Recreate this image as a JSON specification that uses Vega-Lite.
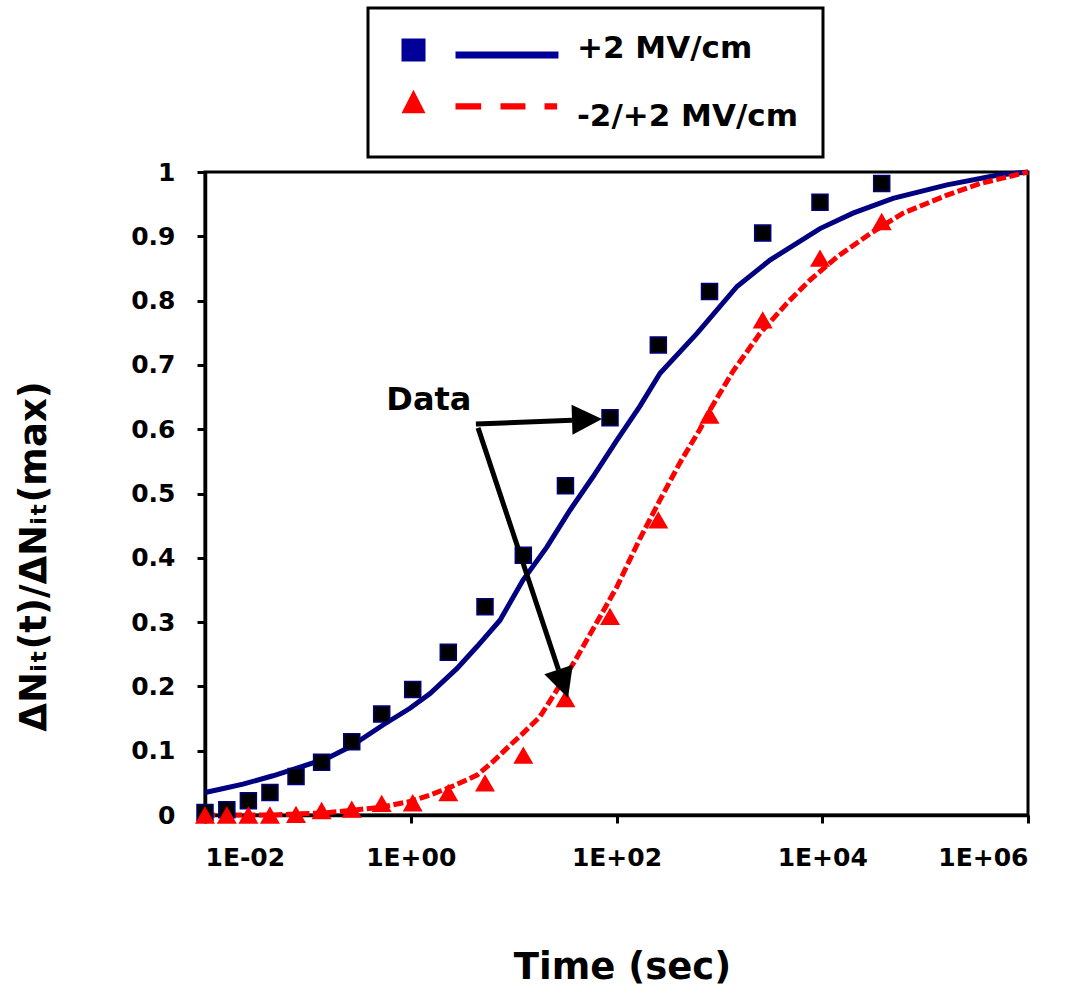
{
  "$schema": "https://vega.github.io/schema/vega-lite/v6.json",
  "width": 823,
  "height": 643,
  "autosize": {"type": "none"},
  "padding": {"left": 205, "top": 172, "right": 58, "bottom": 179},
  "background": "white",
  "config": {
    "view": {"stroke": "black", "strokeWidth": 3},
    "font": "DejaVu Sans",
    "axis": {
      "grid": false,
      "domainColor": "black",
      "domainWidth": 3.5,
      "tickColor": "black",
      "tickWidth": 3,
      "tickSize": 8,
      "labelColor": "black",
      "labelFont": "DejaVu Sans",
      "labelFontWeight": "bold",
      "labelFontSize": 25,
      "titleColor": "black",
      "titleFont": "DejaVu Sans",
      "titleFontWeight": "bold",
      "titleFontSize": 37
    },
    "legend": {
      "strokeColor": "black",
      "strokeWidth": 3,
      "fillColor": "white",
      "padding": 25
    }
  },
  "datasets": {
    "points": [
      {"series": "+2 MV/cm", "time": 0.01, "value": 0.004},
      {"series": "+2 MV/cm", "time": 0.0163, "value": 0.008},
      {"series": "+2 MV/cm", "time": 0.0264, "value": 0.022},
      {"series": "+2 MV/cm", "time": 0.0428, "value": 0.035},
      {"series": "+2 MV/cm", "time": 0.0767, "value": 0.06},
      {"series": "+2 MV/cm", "time": 0.136, "value": 0.082},
      {"series": "+2 MV/cm", "time": 0.267, "value": 0.114},
      {"series": "+2 MV/cm", "time": 0.522, "value": 0.157},
      {"series": "+2 MV/cm", "time": 1.045, "value": 0.195},
      {"series": "+2 MV/cm", "time": 2.317, "value": 0.253},
      {"series": "+2 MV/cm", "time": 5.27, "value": 0.324},
      {"series": "+2 MV/cm", "time": 12.42, "value": 0.404},
      {"series": "+2 MV/cm", "time": 31.9, "value": 0.512},
      {"series": "+2 MV/cm", "time": 86.5, "value": 0.618},
      {"series": "+2 MV/cm", "time": 255, "value": 0.731},
      {"series": "+2 MV/cm", "time": 802, "value": 0.814},
      {"series": "+2 MV/cm", "time": 2637, "value": 0.905},
      {"series": "+2 MV/cm", "time": 9508, "value": 0.953},
      {"series": "+2 MV/cm", "time": 37840, "value": 0.982},
      {"series": "-2/+2 MV/cm", "time": 0.01, "value": 0.0},
      {"series": "-2/+2 MV/cm", "time": 0.0163, "value": 0.0},
      {"series": "-2/+2 MV/cm", "time": 0.0264, "value": 0.0},
      {"series": "-2/+2 MV/cm", "time": 0.0428, "value": 0.0},
      {"series": "-2/+2 MV/cm", "time": 0.0767, "value": 0.001},
      {"series": "-2/+2 MV/cm", "time": 0.136, "value": 0.007},
      {"series": "-2/+2 MV/cm", "time": 0.267, "value": 0.009},
      {"series": "-2/+2 MV/cm", "time": 0.522, "value": 0.018},
      {"series": "-2/+2 MV/cm", "time": 1.045, "value": 0.019},
      {"series": "-2/+2 MV/cm", "time": 2.317, "value": 0.035},
      {"series": "-2/+2 MV/cm", "time": 5.27, "value": 0.05},
      {"series": "-2/+2 MV/cm", "time": 12.42, "value": 0.093},
      {"series": "-2/+2 MV/cm", "time": 31.9, "value": 0.181},
      {"series": "-2/+2 MV/cm", "time": 86.5, "value": 0.309},
      {"series": "-2/+2 MV/cm", "time": 255, "value": 0.459},
      {"series": "-2/+2 MV/cm", "time": 802, "value": 0.622},
      {"series": "-2/+2 MV/cm", "time": 2637, "value": 0.77},
      {"series": "-2/+2 MV/cm", "time": 9508, "value": 0.866},
      {"series": "-2/+2 MV/cm", "time": 37840, "value": 0.923}
    ],
    "curves": [
      {"series": "+2 MV/cm", "time": 0.01, "value": 0.035},
      {"series": "+2 MV/cm", "time": 0.014, "value": 0.04},
      {"series": "+2 MV/cm", "time": 0.0234, "value": 0.048},
      {"series": "+2 MV/cm", "time": 0.0458, "value": 0.061},
      {"series": "+2 MV/cm", "time": 0.0784, "value": 0.073},
      {"series": "+2 MV/cm", "time": 0.153, "value": 0.088},
      {"series": "+2 MV/cm", "time": 0.257, "value": 0.106},
      {"series": "+2 MV/cm", "time": 0.537, "value": 0.14},
      {"series": "+2 MV/cm", "time": 0.983, "value": 0.166},
      {"series": "+2 MV/cm", "time": 1.54, "value": 0.189},
      {"series": "+2 MV/cm", "time": 2.82, "value": 0.228},
      {"series": "+2 MV/cm", "time": 4.41, "value": 0.262},
      {"series": "+2 MV/cm", "time": 7.37, "value": 0.303},
      {"series": "+2 MV/cm", "time": 12.3, "value": 0.365},
      {"series": "+2 MV/cm", "time": 21.1, "value": 0.417},
      {"series": "+2 MV/cm", "time": 35.3, "value": 0.474},
      {"series": "+2 MV/cm", "time": 59.1, "value": 0.526},
      {"series": "+2 MV/cm", "time": 101, "value": 0.583},
      {"series": "+2 MV/cm", "time": 169, "value": 0.636},
      {"series": "+2 MV/cm", "time": 265, "value": 0.687},
      {"series": "+2 MV/cm", "time": 606, "value": 0.749},
      {"series": "+2 MV/cm", "time": 1484, "value": 0.822},
      {"series": "+2 MV/cm", "time": 3105, "value": 0.863},
      {"series": "+2 MV/cm", "time": 9508, "value": 0.912},
      {"series": "+2 MV/cm", "time": 19900, "value": 0.936},
      {"series": "+2 MV/cm", "time": 48710, "value": 0.959},
      {"series": "+2 MV/cm", "time": 163200, "value": 0.98},
      {"series": "+2 MV/cm", "time": 499600, "value": 0.995},
      {"series": "+2 MV/cm", "time": 1000000, "value": 1.0},
      {"series": "-2/+2 MV/cm", "time": 0.01, "value": 0.0},
      {"series": "-2/+2 MV/cm", "time": 0.0458, "value": 0.0},
      {"series": "-2/+2 MV/cm", "time": 0.0839, "value": 0.002},
      {"series": "-2/+2 MV/cm", "time": 0.14, "value": 0.003},
      {"series": "-2/+2 MV/cm", "time": 0.257, "value": 0.007},
      {"series": "-2/+2 MV/cm", "time": 0.503, "value": 0.012},
      {"series": "-2/+2 MV/cm", "time": 0.983, "value": 0.021},
      {"series": "-2/+2 MV/cm", "time": 1.54, "value": 0.031},
      {"series": "-2/+2 MV/cm", "time": 2.58, "value": 0.045},
      {"series": "-2/+2 MV/cm", "time": 4.41, "value": 0.062},
      {"series": "-2/+2 MV/cm", "time": 6.3, "value": 0.083},
      {"series": "-2/+2 MV/cm", "time": 8.62, "value": 0.104},
      {"series": "-2/+2 MV/cm", "time": 12.3, "value": 0.127},
      {"series": "-2/+2 MV/cm", "time": 18.05, "value": 0.153},
      {"series": "-2/+2 MV/cm", "time": 25.3, "value": 0.19},
      {"series": "-2/+2 MV/cm", "time": 39.5, "value": 0.24},
      {"series": "-2/+2 MV/cm", "time": 64.6, "value": 0.3},
      {"series": "-2/+2 MV/cm", "time": 101, "value": 0.355},
      {"series": "-2/+2 MV/cm", "time": 169, "value": 0.43},
      {"series": "-2/+2 MV/cm", "time": 265, "value": 0.49},
      {"series": "-2/+2 MV/cm", "time": 414, "value": 0.548},
      {"series": "-2/+2 MV/cm", "time": 648, "value": 0.6},
      {"series": "-2/+2 MV/cm", "time": 811, "value": 0.63},
      {"series": "-2/+2 MV/cm", "time": 1356, "value": 0.69},
      {"series": "-2/+2 MV/cm", "time": 2483, "value": 0.749},
      {"series": "-2/+2 MV/cm", "time": 4543, "value": 0.796},
      {"series": "-2/+2 MV/cm", "time": 7602, "value": 0.832},
      {"series": "-2/+2 MV/cm", "time": 13910, "value": 0.868},
      {"series": "-2/+2 MV/cm", "time": 29130, "value": 0.904},
      {"series": "-2/+2 MV/cm", "time": 60950, "value": 0.936},
      {"series": "-2/+2 MV/cm", "time": 163200, "value": 0.964},
      {"series": "-2/+2 MV/cm", "time": 341600, "value": 0.982},
      {"series": "-2/+2 MV/cm", "time": 1000000, "value": 1.0}
    ],
    "arrows": [
      {"arrow": "a1", "time": 4.3, "value": 0.608, "time2": 36.9, "value2": 0.614},
      {"arrow": "a2", "time": 4.51, "value": 0.602, "time2": 27.3, "value2": 0.226}
    ],
    "heads": [
      {"arrow": "a1", "time": 72.3, "value": 0.616},
      {"arrow": "a2", "time": 33.8, "value": 0.182}
    ],
    "notes": [
      {"time": 1.5, "value": 0.645, "text": "Data"}
    ]
  },
  "encoding": {
    "x": {
      "field": "time",
      "type": "quantitative",
      "scale": {"type": "log", "domain": [0.01, 1000000], "nice": false},
      "axis": {
        "title": "Time (sec)",
        "values": [0.01, 1, 100, 10000, 1000000],
        "labelExpr": "'1E' + (datum.value < 1 ? '-' : '+') + format(abs(round(log(datum.value) / LN10)), '02d')",
        "labelPadding": 22,
        "titleBaseline": "alphabetic",
        "titleY": 163,
        "titleX": 417,
        "titleAlign": "center"
      }
    },
    "y": {
      "field": "value",
      "type": "quantitative",
      "scale": {"domain": [0, 1], "nice": false},
      "axis": {
        "title": "ΔNᵢₜ(t)/ΔNᵢₜ(max)",
        "values": [0, 0.1, 0.2, 0.3, 0.4, 0.5, 0.6, 0.7, 0.8, 0.9, 1],
        "format": "~g",
        "labelPadding": 22,
        "titleAngle": 270,
        "titleAlign": "center",
        "titleBaseline": "middle",
        "titleX": -171,
        "titleY": 384
      }
    }
  },
  "layer": [
    {
      "data": {"name": "curves"},
      "transform": [{"filter": "datum.series === '+2 MV/cm'"}],
      "mark": {"type": "line", "strokeWidth": 5, "color": "#000080"}
    },
    {
      "data": {"name": "curves"},
      "transform": [{"filter": "datum.series === '-2/+2 MV/cm'"}],
      "mark": {"type": "line", "strokeWidth": 5, "color": "#ff0000", "strokeDash": [10, 3.5]}
    },
    {
      "data": {"name": "points"},
      "transform": [{"filter": "datum.series === '+2 MV/cm'"}],
      "mark": {"type": "point", "shape": "square", "filled": true, "opacity": 1, "fill": "#000000", "stroke": "#000080", "strokeWidth": 1.5, "size": 256}
    },
    {
      "data": {"name": "points"},
      "transform": [{"filter": "datum.series === '-2/+2 MV/cm'"}],
      "mark": {"type": "point", "shape": "triangle-up", "filled": true, "opacity": 1, "fill": "#ff0000", "strokeWidth": 0, "size": 400}
    },
    {
      "data": {"name": "arrows"},
      "mark": {"type": "rule", "color": "black", "strokeWidth": 5, "strokeCap": "butt"},
      "encoding": {
        "x2": {"field": "time2"},
        "y2": {"field": "value2"}
      }
    },
    {
      "data": {"name": "heads"},
      "transform": [{"filter": "datum.arrow === 'a1'"}],
      "mark": {"type": "point", "filled": true, "opacity": 1, "color": "black", "strokeWidth": 0, "shape": "M0,0L-1,2L1,2Z", "size": 900, "angle": 88.2}
    },
    {
      "data": {"name": "heads"},
      "transform": [{"filter": "datum.arrow === 'a2'"}],
      "mark": {"type": "point", "filled": true, "opacity": 1, "color": "black", "strokeWidth": 0, "shape": "M0,0L-1,2L1,2Z", "size": 900, "angle": 161.6}
    },
    {
      "data": {"name": "notes"},
      "mark": {"type": "text", "font": "DejaVu Sans", "fontWeight": "bold", "fontSize": 32, "color": "black", "align": "center", "baseline": "middle"},
      "encoding": {
        "text": {"field": "text"}
      }
    },
    {
      "data": {"name": "points"},
      "transform": [{"filter": "false"}],
      "mark": {"type": "point", "filled": true, "strokeWidth": 0},
      "encoding": {
        "shape": {
          "field": "series",
          "type": "nominal",
          "scale": {
            "domain": ["+2 MV/cm", "-2/+2 MV/cm"],
            "range": [
              "M-1,-0.83H1V1.08H-1Z M3.5,0.25H12.08V0.83H3.5Z",
              "M0,-2.23L1,-0.28H-1Z M3.5,-1.11H5.64V-0.58H3.5Z M7.25,-1.11H9.33V-0.58H7.25Z M10.92,-1.11H11.97V-0.58H10.92Z"
            ]
          },
          "legend": {
            "orient": "none",
            "legendX": 163,
            "legendY": -164,
            "title": null,
            "direction": "vertical",
            "symbolSize": 576,
            "symbolStrokeWidth": 0,
            "symbolOffset": 5,
            "symbolOpacity": 1,
            "labelOffset": 148,
            "labelFont": "DejaVu Sans",
            "labelFontWeight": "bold",
            "labelFontSize": 31,
            "labelColor": "black",
            "labelLimit": 600,
            "rowPadding": 25
          }
        },
        "color": {
          "field": "series",
          "type": "nominal",
          "scale": {"domain": ["+2 MV/cm", "-2/+2 MV/cm"], "range": ["#000099", "#ff0000"]},
          "legend": {
            "orient": "none",
            "legendX": 163,
            "legendY": -164,
            "title": null,
            "direction": "vertical",
            "symbolSize": 576,
            "symbolStrokeWidth": 0,
            "symbolOffset": 5,
            "symbolOpacity": 1,
            "labelOffset": 148,
            "labelFont": "DejaVu Sans",
            "labelFontWeight": "bold",
            "labelFontSize": 31,
            "labelColor": "black",
            "labelLimit": 600,
            "rowPadding": 25
          }
        }
      }
    }
  ]
}
